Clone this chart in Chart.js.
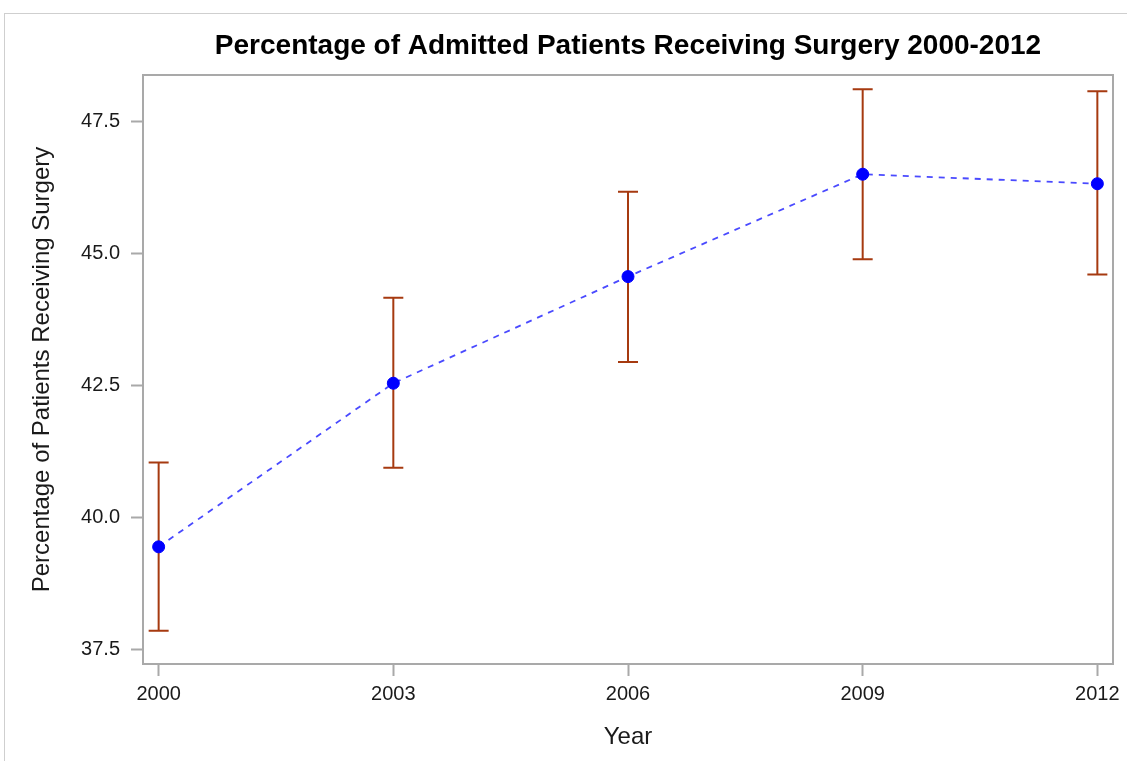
<!DOCTYPE html>
<html>
<head>
<meta charset="utf-8">
<script src="https://cdn.jsdelivr.net/npm/chart.js@4"></script>
<style>
    body { margin: 0; background: #fff; }
    #wrap { position: relative; width: 1127px; height: 761px; overflow: hidden; }
    #frame { position: absolute; left: 4px; top: 13px; width: 1200px; height: 800px; border: 1px solid #cfcfcf; }
    canvas { position: absolute; left: 0; top: 0; }
</style>
</head>
<body>
<div id="wrap">
    <div id="frame"></div>
    <canvas id="surgeryChart" width="1127" height="761"></canvas>
</div>
<script>
const years = [2000, 2003, 2006, 2009, 2012];
const pctSurgery = [39.44, 42.54, 44.56, 46.50, 46.32];
const lowerCI = [37.85, 40.94, 42.94, 44.89, 44.60];
const upperCI = [41.04, 44.16, 46.17, 48.11, 48.07];
const xTickValues = [2000, 2003, 2006, 2009, 2012];
const yTickValues = [37.5, 40.0, 42.5, 45.0, 47.5];

const font = "'Liberation Sans', Arial, sans-serif";

// error bars drawn under the points, through the chart scales
const errorBars = {
    id: 'errorBars',
    beforeDatasetsDraw(chart) {
        const ctx = chart.ctx;
        const xs = chart.scales.x, ys = chart.scales.y;
        ctx.save();
        ctx.strokeStyle = '#A63A10';
        ctx.lineWidth = 2;
        years.forEach((yr, i) => {
            const px = xs.getPixelForValue(yr);
            const top = ys.getPixelForValue(upperCI[i]);
            const bot = ys.getPixelForValue(lowerCI[i]);
            ctx.beginPath();
            ctx.moveTo(px, top); ctx.lineTo(px, bot);
            ctx.moveTo(px - 10, top); ctx.lineTo(px + 10, top);
            ctx.moveTo(px - 10, bot); ctx.lineTo(px + 10, bot);
            ctx.stroke();
        });
        ctx.restore();
    },
    afterDraw(chart) {
        const { left, top, right, bottom } = chart.chartArea;
        const ctx = chart.ctx;
        ctx.save();
        ctx.strokeStyle = '#a9a9a9';
        ctx.lineWidth = 2;
        ctx.strokeRect(left, top, right - left, bottom - top);
        ctx.restore();
    }
};

new Chart(document.getElementById('surgeryChart'), {
    type: 'line',
    data: {
        datasets: [{
            data: years.map((yr, i) => ({ x: yr, y: pctSurgery[i] })),
            borderColor: '#4a4aff',
            borderWidth: 1.8,
            borderDash: [6, 6],
            pointBackgroundColor: '#0000ff',
            pointBorderColor: '#0000ff',
            pointBorderWidth: 1,
            pointRadius: 6,
            fill: false,
            tension: 0
        }]
    },
    options: {
        responsive: false,
        animation: false,
        layout: { padding: { left: 0, right: 14, top: 0, bottom: 0 } },
        plugins: {
            legend: { display: false },
            tooltip: { enabled: false },
            title: {
                display: true,
                fullSize: false,
                text: 'Percentage of Admitted Patients Receiving Surgery 2000-2012',
                color: '#000',
                font: { family: font, size: 28, weight: 'bold', lineHeight: 1.2 },
                padding: { top: 29.2, bottom: 12.2 }
            }
        },
        scales: {
            x: {
                type: 'linear',
                min: 1999.8,
                max: 2012.2,
                afterBuildTicks: s => { s.ticks = xTickValues.map(v => ({ value: v })); },
                afterFit: s => { s.height = 97; },
                ticks: {
                    color: '#1a1a1a',
                    font: { family: font, size: 20 },
                    padding: 6,
                    maxRotation: 0,
                    callback: v => String(v)
                },
                grid: { drawOnChartArea: false, tickLength: 12, tickColor: '#a9a9a9', tickWidth: 2 },
                border: { display: false },
                title: {
                    display: true,
                    text: 'Year',
                    color: '#1a1a1a',
                    font: { family: font, size: 24 },
                    padding: { top: 0, bottom: 9.6 }
                }
            },
            y: {
                min: 37.22,
                max: 48.38,
                afterBuildTicks: s => { s.ticks = yTickValues.map(v => ({ value: v })); },
                afterFit: s => { s.width = 143; },
                ticks: {
                    color: '#1a1a1a',
                    font: { family: font, size: 20 },
                    padding: 11,
                    callback: v => v.toFixed(1)
                },
                grid: { drawOnChartArea: false, tickLength: 12, tickColor: '#a9a9a9', tickWidth: 2 },
                border: { display: false },
                title: {
                    display: true,
                    text: 'Percentage of Patients Receiving Surgery',
                    color: '#1a1a1a',
                    font: { family: font, size: 24 },
                    padding: { top: 27.6, bottom: 0 }
                }
            }
        }
    },
    plugins: [errorBars]
});
</script>
</body>
</html>
